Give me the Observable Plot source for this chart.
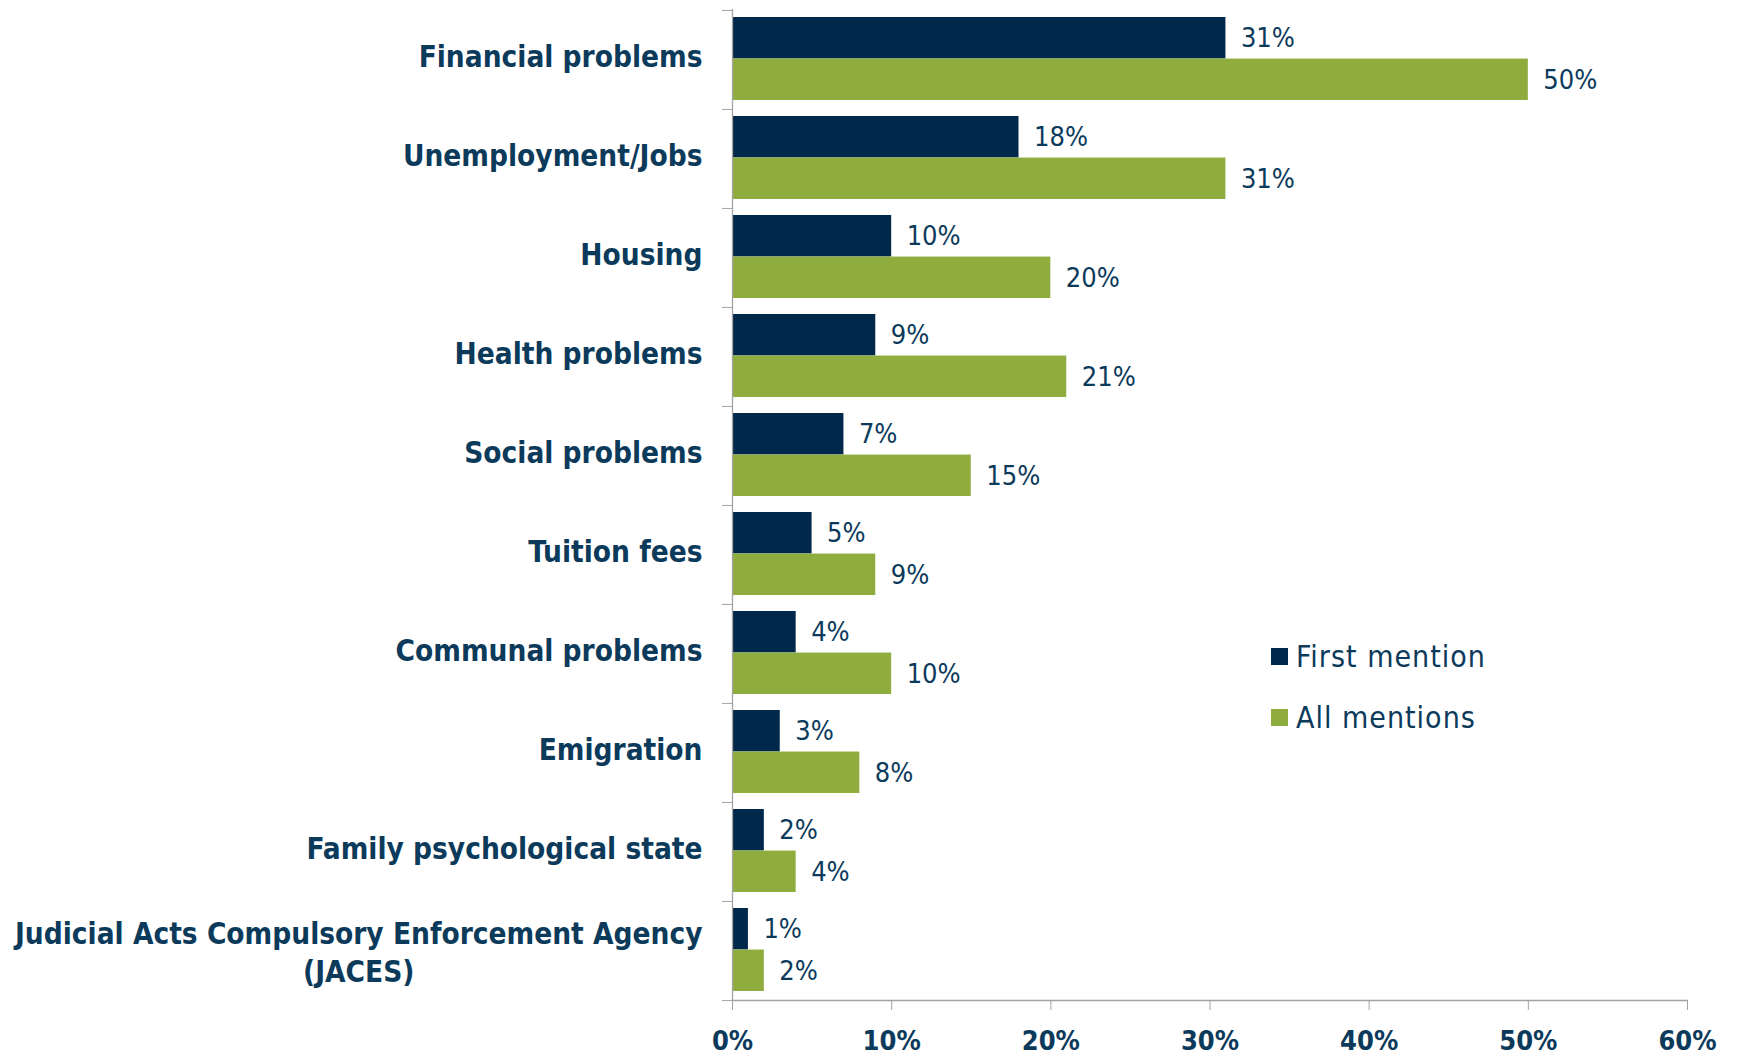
<!DOCTYPE html>
<html>
<head>
<meta charset="utf-8">
<script src="https://cdn.jsdelivr.net/npm/d3@7"></script>
<script src="https://cdn.jsdelivr.net/npm/@observablehq/plot@0.6"></script>
<style>
  body { margin: 0; background: #fff; }
  #wrap { position: relative; width: 1737px; height: 1053px; font-family: "DejaVu Sans Condensed", "DejaVu Sans", sans-serif; }
  #legend { position: absolute; left: 1271px; top: 636px; color: #0c3a5b; font-size: 30px; letter-spacing: 1px; }
  .row { display: flex; align-items: center; height: 40px; margin-bottom: 21px; }
  .sw { width: 17px; height: 17px; margin-right: 8px; }
</style>
</head>
<body>
<div id="wrap"><div id="chart"></div><div id="legend"></div></div>
<script>
const categories = [
  "Financial problems",
  "Unemployment/Jobs",
  "Housing",
  "Health problems",
  "Social problems",
  "Tuition fees",
  "Communal problems",
  "Emigration",
  "Family psychological state",
  "Judicial Acts Compulsory Enforcement Agency\n(JACES)"
];
const firstMention = [31, 18, 10, 9, 7, 5, 4, 3, 2, 1];
const allMentions  = [50, 31, 20, 21, 15, 9, 10, 8, 4, 2];
const seriesNames = ["First mention", "All mentions"];
const seriesColors = ["#00284b", "#8fad3f"];
const xTicks = [0, 10, 20, 30, 40, 50, 60];

const rows = [];
categories.forEach((c, i) => {
  rows.push({cat: c, series: seriesNames[0], value: firstMention[i]});
  rows.push({cat: c, series: seriesNames[1], value: allMentions[i]});
});
const first = rows.filter(d => d.series === seriesNames[0]);
const all = rows.filter(d => d.series === seriesNames[1]);

const W = 1737, H = 1053;
const mTop = 9, mBottom = 53, mLeft = 732, mRight = 50;
const band = (H - mTop - mBottom) / categories.length;
const pad = 8, barH = (band - 2 * pad) / 2;
const textColor = "#0c3a5b";
const axisGray = "#a3a3a3";
const font = "DejaVu Sans Condensed, DejaVu Sans, sans-serif";

const chart = Plot.plot({
  width: W, height: H,
  marginTop: mTop, marginBottom: mBottom, marginLeft: mLeft, marginRight: mRight,
  style: {fontFamily: font, background: "#fff", overflow: "visible"},
  x: {domain: [0, 60], axis: null},
  y: {domain: categories, padding: 0, axis: null},
  marks: [
    Plot.barX(first, {y: "cat", x: "value", fill: seriesColors[0], insetTop: pad - 1, insetBottom: band - pad - barH + 1}),
    Plot.barX(all, {y: "cat", x: "value", fill: seriesColors[1], insetTop: pad + barH - 1, insetBottom: pad + 1}),
    Plot.text(first, {y: "cat", x: "value", text: d => d.value + "%", textAnchor: "start", dx: 15, dy: -barH / 2 - 1, fill: textColor, fontSize: 27}),
    Plot.text(all, {y: "cat", x: "value", text: d => d.value + "%", textAnchor: "start", dx: 15, dy: barH / 2, fill: textColor, fontSize: 27}),
    Plot.ruleX([0], {stroke: axisGray, strokeWidth: 1.3}),
    Plot.frame({anchor: "bottom", stroke: axisGray, strokeWidth: 1.3}),
    Plot.axisX({ticks: xTicks, tickSize: 10, tickPadding: 20, tickFormat: d => d + "%", label: null, stroke: axisGray, fill: textColor, fontSize: 27, fontWeight: "bold"}),
    Plot.axisY({tickSize: 10, tickFormat: () => "", label: null, dy: -band / 2, stroke: axisGray}),
    Plot.axisY([categories[categories.length - 1]], {tickSize: 10, tickFormat: () => "", label: null, dy: band / 2, stroke: axisGray}),
    Plot.axisY({tickSize: 0, tickPadding: 30, label: null, dy: -5, fill: textColor, fontSize: 29.5, fontWeight: "bold", lineHeight: 1.3})
  ]
});
document.getElementById("chart").appendChild(chart);

// center multi-line category label lines within their block
chart.querySelectorAll("text").forEach(t => {
  const spans = t.querySelectorAll("tspan");
  if (spans.length > 1) {
    const w = spans[0].getComputedTextLength();
    t.setAttribute("text-anchor", "middle");
    spans.forEach(s => s.setAttribute("x", -w / 2));
    spans[0].setAttribute("dy", (parseFloat(spans[0].getAttribute("dy")) || 0) + 0.15 + "em");
  }
});

const legend = document.getElementById("legend");
seriesNames.forEach((n, i) => {
  const r = document.createElement("div");
  r.className = "row";
  r.innerHTML = `<div class="sw" style="background:${seriesColors[i]}"></div><span>${n}</span>`;
  legend.appendChild(r);
});
</script>
</body>
</html>
